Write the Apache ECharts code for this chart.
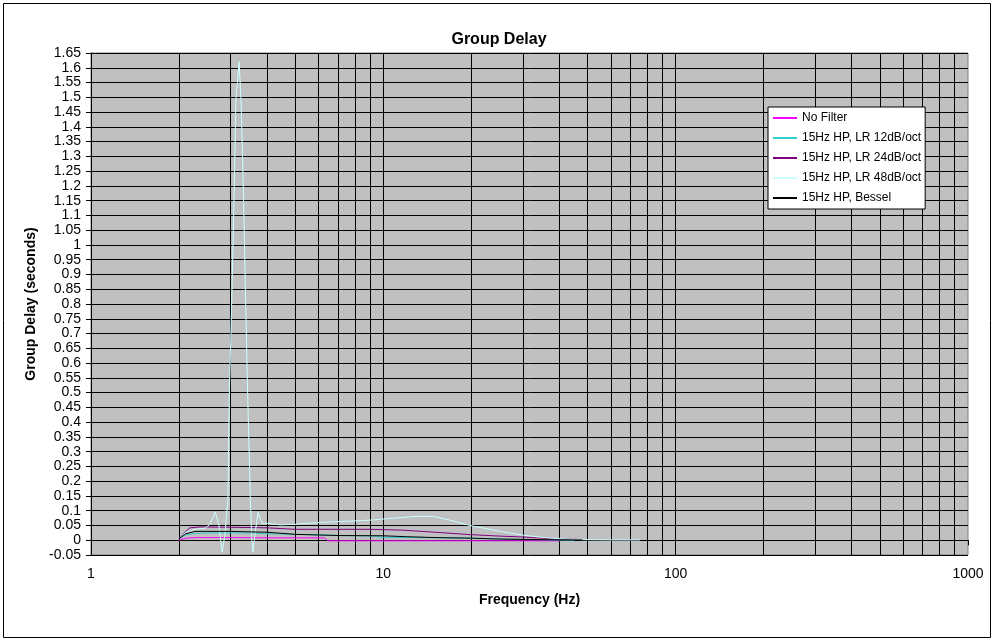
<!DOCTYPE html>
<html>
<head>
<meta charset="utf-8">
<script src="https://cdn.jsdelivr.net/npm/echarts@6/dist/echarts.min.js"></script>
<style>
html,body{margin:0;padding:0;background:#fff;}
#chart{width:998px;height:642px;}
</style>
</head>
<body>
<div id="chart"></div>
<script>
// ---- Data ----
var seriesNames = ['No Filter', '15Hz HP, LR 12dB/oct', '15Hz HP, LR 24dB/oct', '15Hz HP, LR 48dB/oct', '15Hz HP, Bessel'];

var noFilterFreq  = [2.0, 2.11, 2.3, 3.0, 4.0, 5.0, 6.3, 6.45, 8, 10, 15, 20, 30, 40];
var noFilterDelay = [0.0, 0.007, 0.009, 0.009, 0.008, 0.008, 0.008, -0.002, -0.002, -0.002, -0.002, -0.002, -0.002, -0.002];

var lr12Freq  = [2.0, 2.11, 2.27, 2.6, 3.0, 3.5, 4.0, 5.0, 7.0, 9.3, 10, 13, 19, 25, 32, 45];
var lr12Delay = [0.005, 0.018, 0.023, 0.025, 0.025, 0.024, 0.022, 0.02, 0.016, 0.014, 0.009, 0.009, 0.007, 0.004, 0.002, 0.0];

var lr24Freq  = [2.0, 2.11, 2.18, 2.36, 3.0, 4.0, 5.0, 7.0, 9.0, 11.7, 15.6, 19.8, 25, 30.1, 34.6, 48.3];
var lr24Delay = [0.005, 0.03, 0.042, 0.045, 0.044, 0.042, 0.037, 0.037, 0.037, 0.034, 0.026, 0.019, 0.014, 0.011, 0.007, 0.002];

var lr48Freq  = [2.0, 2.11, 2.27, 2.46, 2.55, 2.66, 2.74, 2.81, 2.87, 2.94, 2.97, 3.03, 3.09, 3.13, 3.21, 3.26, 3.32, 3.38, 3.44, 3.51, 3.55, 3.58, 3.65, 3.73, 3.80, 3.88, 4.03, 4.43, 4.99, 6.07, 9.0, 13.0, 14.8, 16.9, 19.8, 25.1, 30.1, 37.2, 47.1, 59.7, 75.5];
var lr48Delay = [0.005, 0.027, 0.037, 0.041, 0.054, 0.095, 0.05, -0.04, 0.017, 0.135, 0.47, 0.81, 1.19, 1.49, 1.62, 1.49, 1.19, 0.81, 0.47, 0.135, 0.0, -0.04, 0.03, 0.095, 0.07, 0.055, 0.058, 0.052, 0.054, 0.06, 0.068, 0.081, 0.081, 0.068, 0.05, 0.03, 0.017, 0.007, 0.002, 0.001, 0.001];

var besselFreq  = [2.0, 2.11, 2.27, 3.0, 4.0, 5.0, 7.0, 10, 12, 15, 20, 25, 35, 48];
var besselDelay = [0.005, 0.022, 0.03, 0.03, 0.027, 0.02, 0.016, 0.015, 0.012, 0.009, 0.007, 0.004, 0.002, 0.001];

var minorGridFreq = [2,3,4,5,6,7,8,9,20,30,40,50,60,70,80,90,200,300,400,500,600,700,800,900];
var xTickLabels = {1: '1', 10: '10', 100: '100', 1000: '1000'};

var colors = ['#FF00FF', '#33CCCC', '#800080', '#CCFFFF', '#000000'];

function zip(f, v) { return f.map(function (x, i) { return [x, v[i]]; }); }

var FONT = 'Arial, "Liberation Sans", sans-serif';
var chart = echarts.init(document.getElementById('chart'), null, {renderer: 'canvas'});

var allData = [
  zip(noFilterFreq, noFilterDelay),
  zip(lr12Freq, lr12Delay),
  zip(lr24Freq, lr24Delay),
  zip(lr48Freq, lr48Delay),
  zip(besselFreq, besselDelay)
];

var series = [{
  name: '_grid',
  type: 'line',
  data: [],
  z: 1,
  silent: true,
  markLine: {
    z: 1,
    silent: true,
    symbol: ['none', 'none'],
    label: {show: false},
    lineStyle: {color: '#000', width: 1, type: 'solid'},
    emphasis: {disabled: true},
    animation: false,
    data: minorGridFreq.map(function (f) { return {xAxis: f}; })
  }
}];
seriesNames.forEach(function (n, i) {
  series.push({
    name: n,
    type: 'line',
    data: allData[i],
    symbol: 'none',
    showSymbol: false,
    z: 3,
    lineStyle: {color: colors[i], width: 1},
    itemStyle: {color: colors[i]},
    animation: false
  });
});

chart.setOption({
  backgroundColor: '#fff',
  animation: false,
  title: {
    text: 'Group Delay',
    left: 'center',
    top: 27,
    textStyle: {fontFamily: FONT, fontSize: 16, fontWeight: 'bold', color: '#000'}
  },
  legend: {
    orient: 'vertical',
    left: 768,
    top: 107,
    z: 10,
    data: seriesNames,
    icon: 'path://M0,0H24V2H0Z',
    symbolKeepAspect: true,
    backgroundColor: '#fff',
    borderColor: '#000',
    borderWidth: 1,
    padding: [5, 4, 5, 5],
    itemWidth: 24,
    itemHeight: 12,
    itemGap: 8,
    textStyle: {fontFamily: FONT, fontSize: 12, color: '#000'},
    selectedMode: false
  },
  grid: {
    left: 91, right: 30, top: 53, bottom: 87,
    show: true,
    backgroundColor: '#C0C0C0',
    borderColor: '#808080',
    borderWidth: 1,
    containLabel: false
  },
  xAxis: {
    type: 'log',
    logBase: 10,
    min: 1,
    max: 1000,
    name: 'Frequency (Hz)',
    nameLocation: 'middle',
    nameGap: 38,
    nameTextStyle: {fontFamily: FONT, fontSize: 14, fontWeight: 'bold', color: '#000'},
    axisLine: {show: true, lineStyle: {color: '#000', width: 1}},
    axisTick: {show: true, length: 5, inside: false, lineStyle: {color: '#000'}},
    axisLabel: {
      fontFamily: FONT, fontSize: 14, color: '#000', margin: 12,
      formatter: function (v) { var r = Math.round(v); return xTickLabels[r] || String(r); }
    },
    splitLine: {show: true, showMaxLine: false, lineStyle: {color: '#000', width: 1}},
    minorTick: {show: false},
    minorSplitLine: {show: false}
  },
  yAxis: {
    type: 'value',
    min: -0.05,
    max: 1.65,
    interval: 0.05,
    name: 'Group Delay (seconds)',
    nameLocation: 'middle',
    nameGap: 49,
    nameTextStyle: {fontFamily: FONT, fontSize: 14, fontWeight: 'bold', color: '#000'},
    axisLine: {show: true, lineStyle: {color: '#000', width: 1}},
    axisTick: {show: true, length: 5, inside: false, lineStyle: {color: '#000'}},
    axisLabel: {fontFamily: FONT, fontSize: 14, color: '#000', margin: 10},
    splitLine: {show: true, lineStyle: {color: '#000', width: 1}}
  },
  graphic: [{
    type: 'rect',
    shape: {x: 3.5, y: 3.5, width: 987, height: 634},
    style: {fill: 'none', stroke: '#000', lineWidth: 1},
    silent: true,
    z: 100
  }],
  series: series
});
</script>
</body>
</html>
